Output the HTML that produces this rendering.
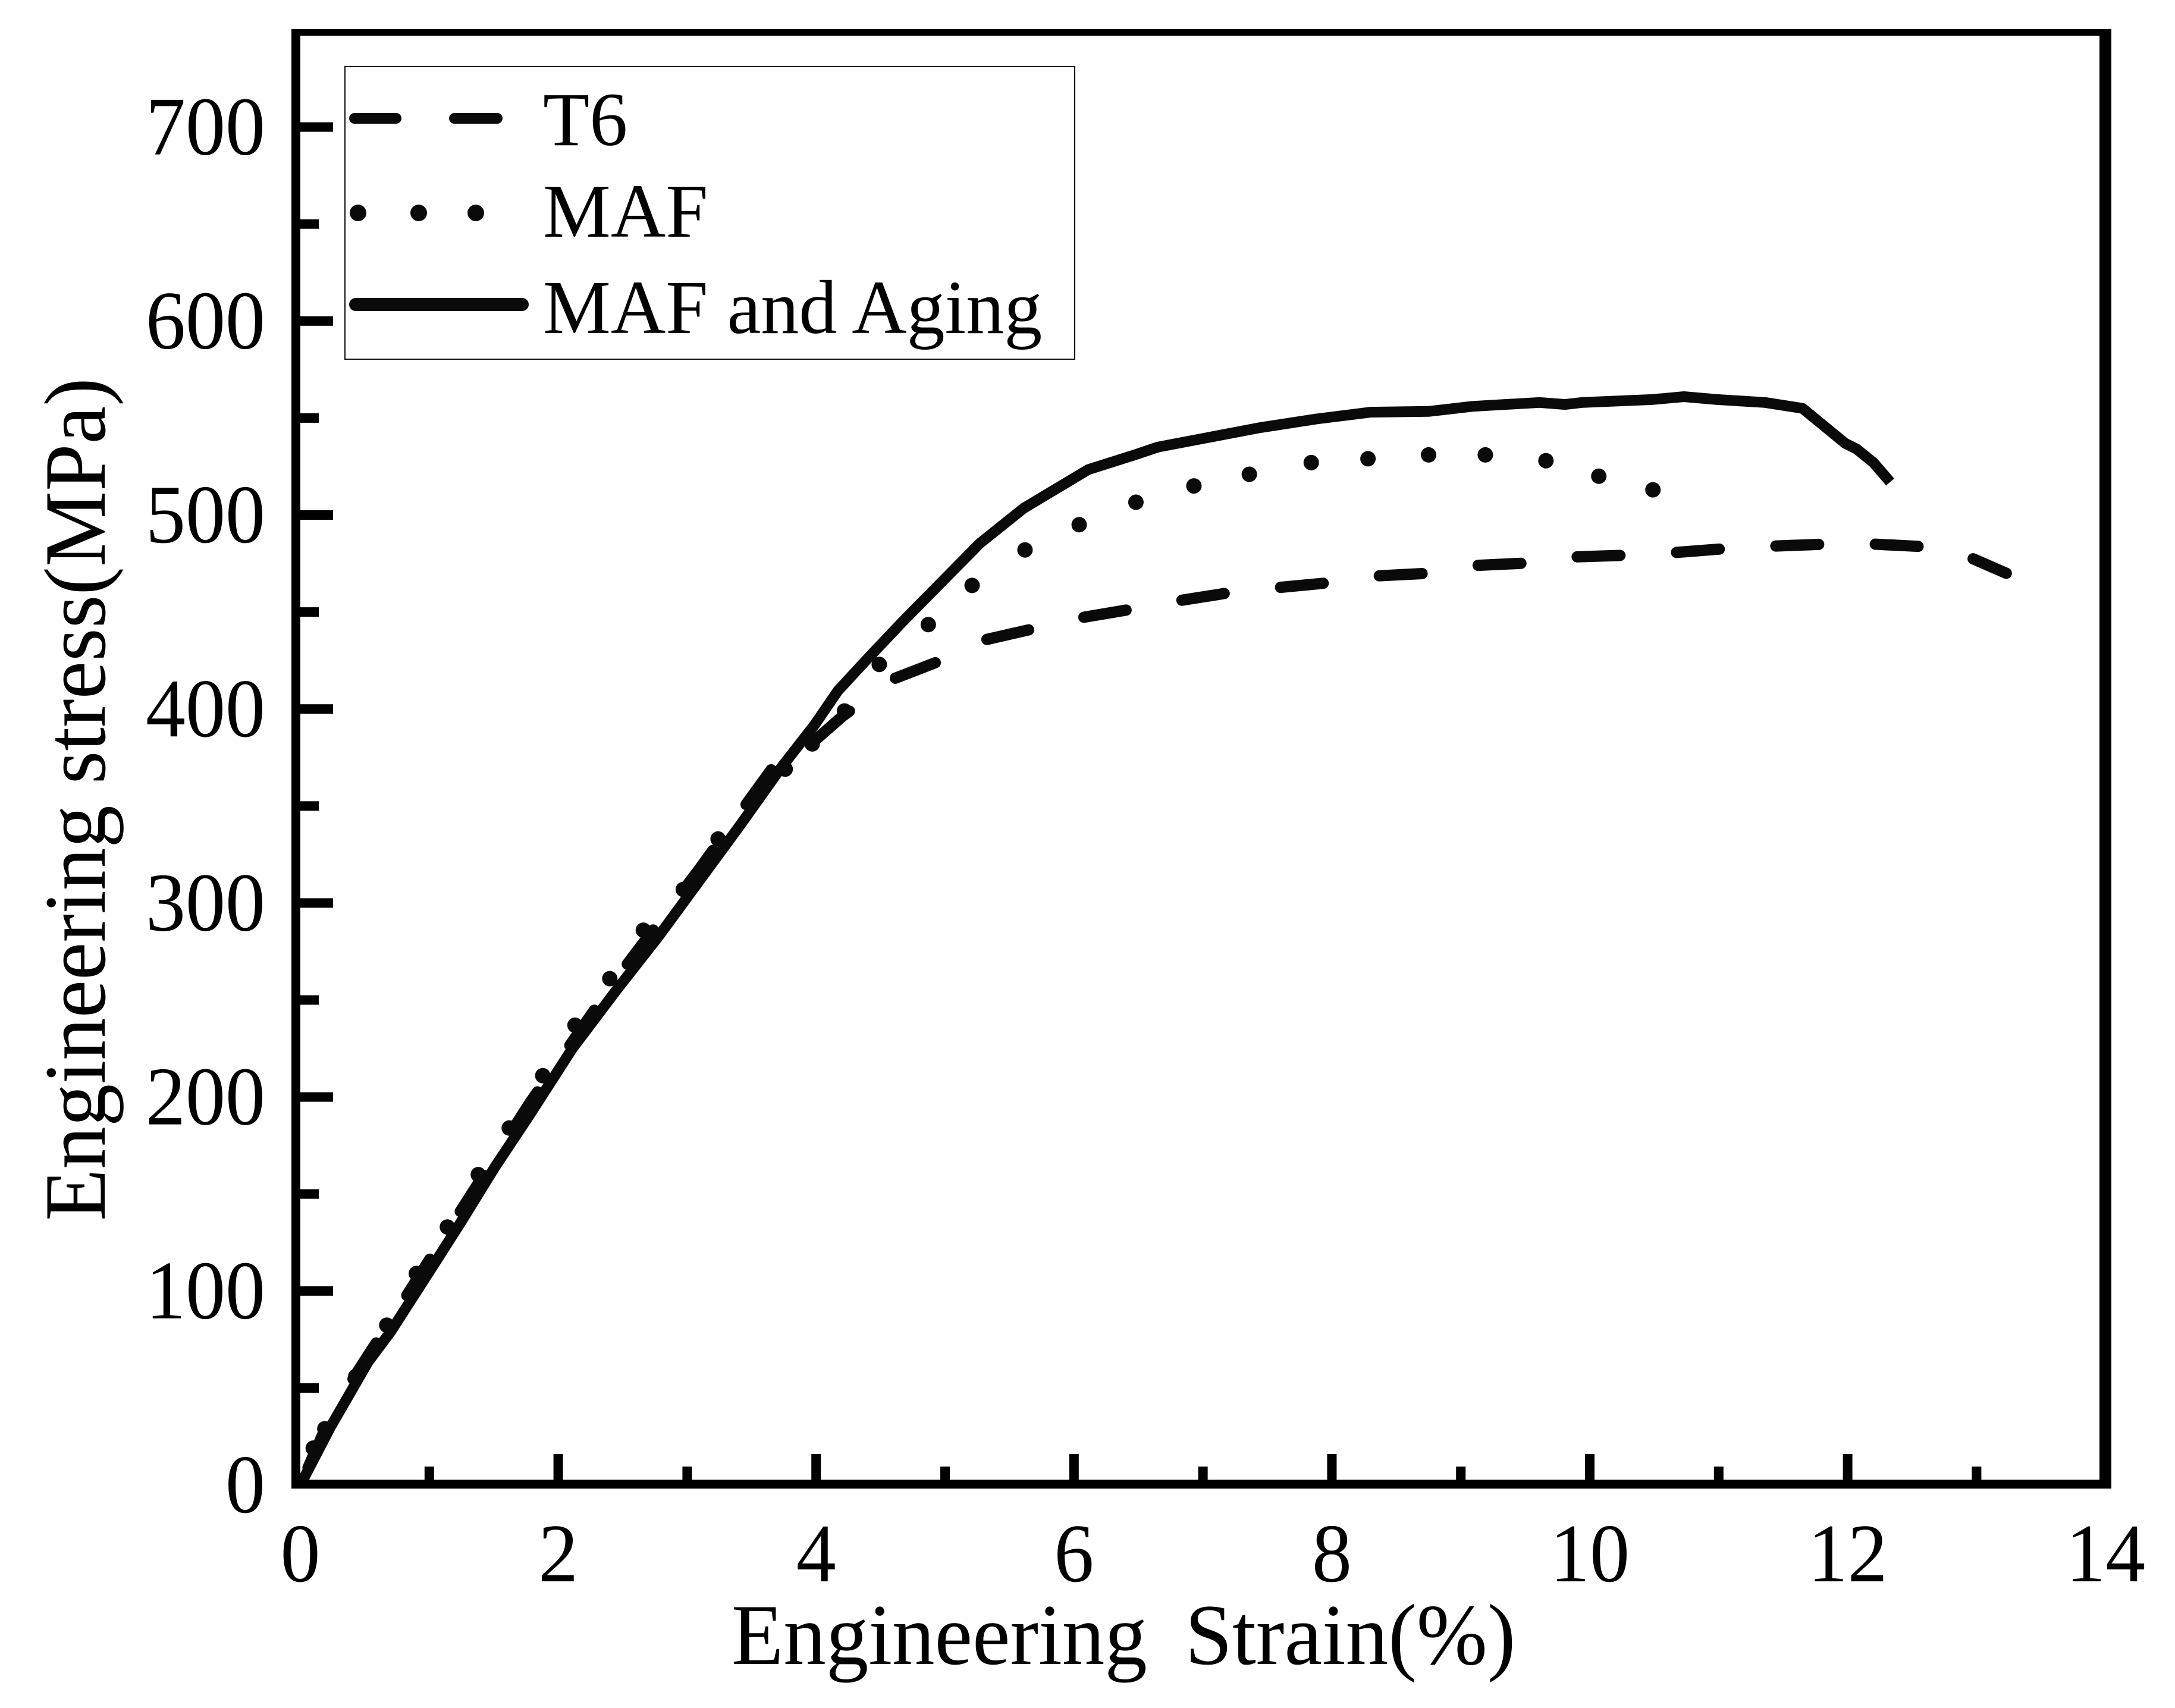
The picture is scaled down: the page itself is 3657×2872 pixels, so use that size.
<!DOCTYPE html>
<html lang="en">
<head>
<meta charset="utf-8">
<title>Engineering stress-strain curves</title>
<style>
html,body{margin:0;padding:0;background:#fff;}
svg{display:block;}
text{font-family:"Liberation Serif",serif;fill:#000;}
</style>
</head>
<body>
<svg id="chart" xmlns="http://www.w3.org/2000/svg" width="3657" height="2872" viewBox="0 0 3657 2872">
  <rect x="0" y="0" width="3657" height="2872" fill="#fff"/>
  <g id="series"></g>
  <g id="axes">
    <rect x="490" y="49" width="15" height="2454" fill="#000"/>
    <rect x="490" y="49" width="3060" height="11" fill="#000"/>
    <rect x="3530" y="49" width="20" height="2454" fill="#000"/>
    <rect x="490" y="2488" width="3060" height="15" fill="#000"/>
  </g>
  <text transform="translate(1230,2798) scale(1,1.02)" font-size="143" word-spacing="28">Engineering Strain(%)</text>
  <text transform="translate(176,2053) rotate(-90) scale(1,1.03)" font-size="143">Engineering stress(MPa)</text>
  <g>
    <rect x="580" y="112" width="1227" height="492" fill="#fff" stroke="#111" stroke-width="2"/>
    <g>
      <line x1="596" y1="199" x2="666" y2="199" stroke="#0a0a0a" stroke-width="18" stroke-linecap="round"/>
      <line x1="764" y1="199" x2="836" y2="199" stroke="#0a0a0a" stroke-width="18" stroke-linecap="round"/>
      <text x="913" y="244" font-size="128">T6</text>
    </g>
    <g>
      <circle cx="602" cy="358" r="14" fill="#0a0a0a"/>
      <circle cx="704" cy="358" r="14" fill="#0a0a0a"/>
      <circle cx="800" cy="358" r="14" fill="#0a0a0a"/>
      <text x="913" y="398" font-size="128">MAF</text>
    </g>
    <g>
      <line x1="598" y1="512" x2="878" y2="512" stroke="#0a0a0a" stroke-width="22" stroke-linecap="round"/>
      <text x="913" y="560" font-size="128">MAF and Aging</text>
    </g>
  </g>
</svg>
<script>
// Chart data (strain in %, stress in MPa)
const xTickValues = [0, 2, 4, 6, 8, 10, 12, 14];
const xMinorTickValues = [1, 3, 5, 7, 9, 11, 13];
const yTickValues = [0, 100, 200, 300, 400, 500, 600, 700];
const yMinorTickValues = [50, 150, 250, 350, 450, 550, 650];

const t6Strain = [0, 0.2, 0.42, 0.78, 1.25, 1.78, 2.45, 3.10, 3.72, 3.96, 4.20, 4.58, 4.93, 5.30, 5.70, 6.05, 6.45, 6.83, 7.21, 7.57, 7.96, 8.35, 8.75, 9.12, 9.53, 9.87, 10.31, 10.65, 11.06, 11.43, 11.84, 12.2, 12.62, 12.94, 13.23];
const t6Stress = [0, 30, 56, 93, 142, 197, 261, 318, 375, 382, 396, 415, 424, 435.5, 441.6, 447, 451.5, 456, 460, 462.5, 465, 468.6, 470, 474, 475.3, 478.4, 479.3, 480.6, 482.7, 484, 485, 485, 483.6, 478.4, 470];

const mafStrain = [0.1, 0.19, 0.43, 0.67, 0.90, 1.14, 1.38, 1.62, 1.88, 2.13, 2.40, 2.66, 2.97, 3.24, 3.54, 3.76, 3.97, 4.22, 4.49, 4.87, 5.21, 5.62, 6.04, 6.48, 6.93, 7.36, 7.84, 8.28, 8.75, 9.19, 9.66, 10.07, 10.49];
const mafStress = [19, 29, 56, 82.4, 109, 133, 160, 184, 211, 237, 261, 286, 307, 333, 355, 369, 382, 399, 423, 443.5, 463.7, 482, 495, 506.6, 515, 521, 527, 529, 531, 531, 528, 520, 513];

const agingStrain = [0, 0.235, 0.526, 0.70, 1.0, 1.25, 1.51, 1.78, 2.11, 2.45, 2.78, 3.10, 3.42, 3.72, 3.99, 4.17, 4.40, 4.67, 4.93, 5.27, 5.61, 6.11, 6.47, 6.65, 7.44, 7.88, 8.30, 8.75, 9.09, 9.61, 9.81, 9.94, 10.48, 10.73, 10.99, 11.36, 11.65, 11.98, 12.07, 12.2, 12.33];
const agingStress = [0, 30, 63.5, 79, 110, 136, 164, 191, 225, 255, 283, 312, 341, 369, 392, 409.5, 426, 445, 462.5, 485.4, 503.5, 523.4, 531, 535, 545, 549.5, 553, 553.4, 556, 558, 557, 558, 559.5, 561, 559.5, 558, 555, 537, 534, 527, 517];

function xScale(v) { return 505 + v * 216.8; }
function yScale(v) { return 2497 - v * 3.262; }

const NS = 'http://www.w3.org/2000/svg';
const axesLayer = document.getElementById('axes');
const seriesLayer = document.getElementById('series');
const chartRoot = document.getElementById('chart');

function pathFrom(xs, ys) {
  return xs.map(function (x, i) {
    return (i ? 'L' : 'M') + xScale(x).toFixed(1) + ' ' + yScale(ys[i]).toFixed(1);
  }).join(' ');
}

// T6 dashed curve: the dash phase is anchored at the first clearly visible dash
const t6Line = document.createElementNS(NS, 'path');


t6Line.setAttribute('d', pathFrom(t6Strain, t6Stress));
t6Line.setAttribute('fill', 'none');
t6Line.setAttribute('stroke', '#0a0a0a');
t6Line.setAttribute('stroke-width', '19');
t6Line.setAttribute('stroke-linejoin', 'round');
t6Line.setAttribute('stroke-linecap', 'round');
t6Line.setAttribute('stroke-dasharray', '72 95.3');
let anchorLength = 0;
for (let i = 1; i <= 11; i++) {
  anchorLength += Math.hypot(xScale(t6Strain[i]) - xScale(t6Strain[i - 1]), yScale(t6Stress[i]) - yScale(t6Stress[i - 1]));
}
t6Line.setAttribute('stroke-dashoffset', String(167.3 - ((anchorLength + 8) % 167.3)));
seriesLayer.appendChild(t6Line);

// MAF dotted curve: one dot per sampled value
mafStrain.forEach(function (x, i) {
  const dot = document.createElementNS(NS, 'circle');
  
  
  dot.setAttribute('cx', xScale(x).toFixed(1));
  dot.setAttribute('cy', yScale(mafStress[i]).toFixed(1));
  dot.setAttribute('r', '13');
  dot.setAttribute('fill', '#0a0a0a');
  seriesLayer.appendChild(dot);
});

// MAF and Aging solid curve
const agingLine = document.createElementNS(NS, 'path');


agingLine.setAttribute('d', pathFrom(agingStrain, agingStress));
agingLine.setAttribute('fill', 'none');
agingLine.setAttribute('stroke', '#0a0a0a');
agingLine.setAttribute('stroke-width', '18');
agingLine.setAttribute('stroke-linejoin', 'round');
seriesLayer.appendChild(agingLine);

// X ticks
xTickValues.forEach(function (v) {
  const tick = document.createElementNS(NS, 'rect');
  
  
  tick.setAttribute('x', xScale(v) - 8);
  tick.setAttribute('y', 2445);
  tick.setAttribute('width', 16);
  tick.setAttribute('height', 45);
  tick.setAttribute('fill', '#000');
  if (v > 0 && v < 14) axesLayer.appendChild(tick);
  const label = document.createElementNS(NS, 'text');
  
  
  label.setAttribute('text-anchor', 'middle');
  label.setAttribute('font-size', '134');
  label.setAttribute('transform', 'translate(' + xScale(v) + ',2659) scale(1,1.045)');
  label.textContent = String(v);
  chartRoot.appendChild(label);
});
xMinorTickValues.forEach(function (v) {
  const tick = document.createElementNS(NS, 'rect');
  
  
  tick.setAttribute('x', xScale(v) - 8);
  tick.setAttribute('y', 2466);
  tick.setAttribute('width', 16);
  tick.setAttribute('height', 24);
  tick.setAttribute('fill', '#000');
  axesLayer.appendChild(tick);
});

// Y ticks
yTickValues.forEach(function (v) {
  const tick = document.createElementNS(NS, 'rect');
  
  
  tick.setAttribute('x', 503);
  tick.setAttribute('y', yScale(v) - 8);
  tick.setAttribute('width', 57);
  tick.setAttribute('height', 16);
  tick.setAttribute('fill', '#000');
  if (v > 0) axesLayer.appendChild(tick);
  const label = document.createElementNS(NS, 'text');
  
  
  label.setAttribute('text-anchor', 'end');
  label.setAttribute('font-size', '134');
  label.setAttribute('transform', 'translate(446,' + (yScale(v) + 46) + ') scale(1,1.045)');
  label.textContent = String(v);
  chartRoot.appendChild(label);
});
yMinorTickValues.forEach(function (v) {
  const tick = document.createElementNS(NS, 'rect');
  
  
  tick.setAttribute('x', 503);
  tick.setAttribute('y', yScale(v) - 8);
  tick.setAttribute('width', 33);
  tick.setAttribute('height', 16);
  tick.setAttribute('fill', '#000');
  axesLayer.appendChild(tick);
});
</script>
</body>
</html>
